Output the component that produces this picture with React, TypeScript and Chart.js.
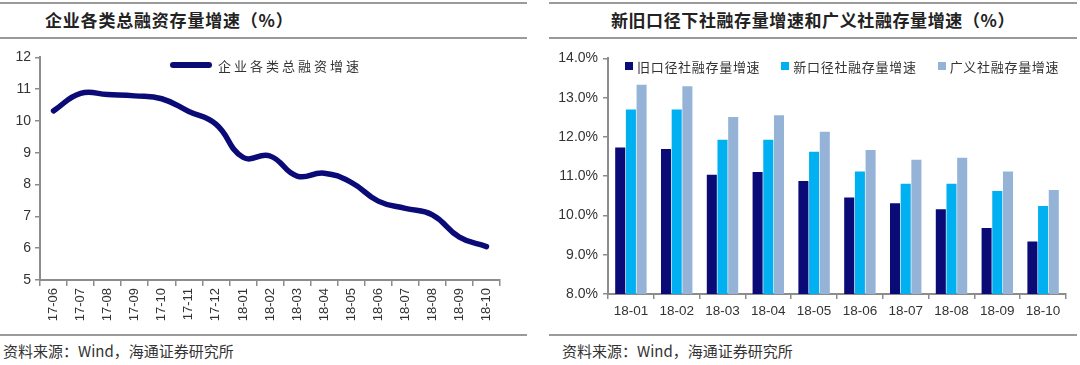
import React, { useEffect, useRef } from "react";
import { Chart, registerables } from "chart.js";

Chart.register(...registerables);

const leftTitle = "企业各类总融资存量增速（%）";
const rightTitle = "新旧口径下社融存量增速和广义社融存量增速（%）";
const sourceText = "资料来源：Wind，海通证券研究所";

const lineCategories = [
  "17-06", "17-07", "17-08", "17-09", "17-10", "17-11", "17-12",
  "18-01", "18-02", "18-03", "18-04", "18-05", "18-06", "18-07", "18-08", "18-09", "18-10",
];
const lineName = "企业各类总融资增速";
const lineValues = [10.32, 10.87, 10.83, 10.79, 10.7, 10.3, 9.9, 8.86, 8.9, 8.27, 8.36, 8.07, 7.48, 7.25, 7.05, 6.35, 6.05];

const barCategories = ["18-01", "18-02", "18-03", "18-04", "18-05", "18-06", "18-07", "18-08", "18-09", "18-10"];
const seriesNames = ["旧口径社融存量增速", "新口径社融存量增速", "广义社融存量增速"];
const oldValues = [11.73, 11.69, 11.04, 11.11, 10.88, 10.46, 10.31, 10.16, 9.68, 9.34];
const newValues = [12.7, 12.7, 11.93, 11.93, 11.62, 11.12, 10.81, 10.81, 10.62, 10.24];
const broadValues = [13.33, 13.29, 12.51, 12.55, 12.13, 11.67, 11.42, 11.47, 11.12, 10.65];

const NAVY = "#0b0b78";
const BLUE = "#00b0f0";
const GREYBLUE = "#95b3d7";
const seriesColors = [NAVY, BLUE, GREYBLUE];

const AXIS = "#8c8c8c";
const TEXT = "#333333";
const LATIN = "'Liberation Sans', Arial, sans-serif";
const CJK = "'Noto Sans CJK SC', sans-serif";

function LineChart() {
  const ref = useRef<HTMLCanvasElement | null>(null);
  useEffect(() => {
    if (!ref.current) return;
    const chart = new Chart(ref.current, {
      type: "line",
      data: {
        labels: lineCategories,
        datasets: [
          {
            label: lineName,
            data: lineValues,
            borderColor: NAVY,
            borderWidth: 5.5,
            pointRadius: 0,
            tension: 0.45,
            borderCapStyle: "round",
            borderJoinStyle: "round",
            fill: false,
          },
        ],
      },
      options: {
        animation: false,
        responsive: false,
        maintainAspectRatio: false,
        layout: { padding: { top: 9, right: 30, left: 0, bottom: 0 } },
        plugins: { legend: { display: false }, tooltip: { enabled: false } },
        scales: {
          x: {
            offset: true,
            grid: { offset: true, drawOnChartArea: false, drawTicks: true, tickLength: 6, color: AXIS, lineWidth: 1.5 },
            border: { color: AXIS, width: 2 },
            ticks: { color: TEXT, font: { family: LATIN, size: 13 }, minRotation: 90, maxRotation: 90, autoSkip: false, padding: 2 },
            afterFit: (s: any) => { s.height = 50; },
          },
          y: {
            min: 5,
            max: 12,
            grid: { drawOnChartArea: false, drawTicks: true, tickLength: 5, color: AXIS, lineWidth: 1.5 },
            border: { color: AXIS, width: 2 },
            ticks: { stepSize: 1, color: TEXT, font: { family: LATIN, size: 14 }, padding: 4 },
            afterFit: (s: any) => { s.width = 40; },
          },
        },
      },
    });
    return () => chart.destroy();
  }, []);
  return <canvas ref={ref} width={530} height={285} style={{ position: "absolute", left: 0, top: 45, width: 530, height: 285 }} />;
}

function BarChart() {
  const ref = useRef<HTMLCanvasElement | null>(null);
  useEffect(() => {
    if (!ref.current) return;
    const vals = [oldValues, newValues, broadValues];
    const chart = new Chart(ref.current, {
      type: "bar",
      data: {
        labels: barCategories,
        datasets: seriesNames.map((n, i) => ({
          label: n,
          data: vals[i],
          backgroundColor: seriesColors[i],
          borderWidth: 0,
          barPercentage: 0.94,
          categoryPercentage: 0.7,
        })),
      },
      options: {
        animation: false,
        responsive: false,
        maintainAspectRatio: false,
        layout: { padding: { top: 11.5, right: 14, left: 0, bottom: 0 } },
        plugins: { legend: { display: false }, tooltip: { enabled: false } },
        scales: {
          x: {
            grid: { offset: true, drawOnChartArea: false, drawTicks: true, tickLength: 5, color: AXIS, lineWidth: 1.5 },
            border: { color: AXIS, width: 2 },
            ticks: { color: TEXT, font: { family: LATIN, size: 13.5 }, maxRotation: 0, autoSkip: false, padding: 4 },
            afterFit: (s: any) => { s.height = 41; },
          },
          y: {
            min: 8,
            max: 14,
            grid: { drawOnChartArea: false, drawTicks: true, tickLength: 5, color: AXIS, lineWidth: 1.5 },
            border: { color: AXIS, width: 2 },
            ticks: {
              stepSize: 1,
              color: TEXT,
              font: { family: LATIN, size: 14 },
              padding: 5,
              callback: (v: any) => Number(v).toFixed(1) + "%",
            },
            afterFit: (s: any) => { s.width = 63; },
          },
        },
      },
    });
    return () => chart.destroy();
  }, []);
  return <canvas ref={ref} width={535} height={290} style={{ position: "absolute", left: 545, top: 45, width: 535, height: 290 }} />;
}

const hr = (left: number, top: number, width: number): React.CSSProperties => ({
  position: "absolute",
  left,
  top,
  width,
  height: 2,
  background: "#9a9a9a",
});

export default function App() {
  return (
    <div style={{ position: "absolute", left: 0, top: 0, width: 1080, height: 365, background: "#fff", overflow: "hidden" }}>
      <div style={hr(0, 2, 527)} />
      <div style={hr(0, 37, 527)} />
      <div style={hr(0, 334, 527)} />
      <div style={hr(549, 2, 528)} />
      <div style={hr(549, 37, 528)} />
      <div style={hr(549, 334, 528)} />

      <div style={{ position: "absolute", left: 45, top: 7, height: 26, lineHeight: "26px", fontFamily: CJK, fontWeight: 700, fontSize: 17, color: "#222", letterSpacing: 0.8, whiteSpace: "nowrap" }}>
        {leftTitle}
      </div>
      <div style={{ position: "absolute", left: 549, width: 528, top: 7, height: 26, lineHeight: "26px", textAlign: "center", fontFamily: CJK, fontWeight: 700, fontSize: 17, color: "#222", letterSpacing: 0.6, whiteSpace: "nowrap" }}>
        {rightTitle}
      </div>

      <LineChart />
      <BarChart />

      <div style={{ position: "absolute", left: 170, top: 55, height: 20, display: "flex", alignItems: "center", whiteSpace: "nowrap" }}>
        <span style={{ display: "inline-block", width: 42, height: 6, borderRadius: 3, background: NAVY, marginRight: 6 }} />
        <span style={{ fontFamily: CJK, fontSize: 13, color: TEXT, letterSpacing: 3 }}>{lineName}</span>
      </div>

      <div style={{ position: "absolute", left: 625, top: 56, height: 20, display: "flex", alignItems: "center", whiteSpace: "nowrap", gap: 21 }}>
        {seriesNames.map((n, i) => (
          <span key={n} style={{ display: "flex", alignItems: "center" }}>
            <span style={{ display: "inline-block", width: 8, height: 8, background: seriesColors[i], marginRight: 4 }} />
            <span style={{ fontFamily: CJK, fontSize: 13, color: TEXT, letterSpacing: 0.7 }}>{n}</span>
          </span>
        ))}
      </div>

      <div style={{ position: "absolute", left: 3, top: 340, height: 22, lineHeight: "22px", fontFamily: CJK, fontSize: 15, color: TEXT, whiteSpace: "nowrap" }}>
        {sourceText}
      </div>
      <div style={{ position: "absolute", left: 562, top: 340, height: 22, lineHeight: "22px", fontFamily: CJK, fontSize: 15, color: TEXT, whiteSpace: "nowrap" }}>
        {sourceText}
      </div>
    </div>
  );
}
